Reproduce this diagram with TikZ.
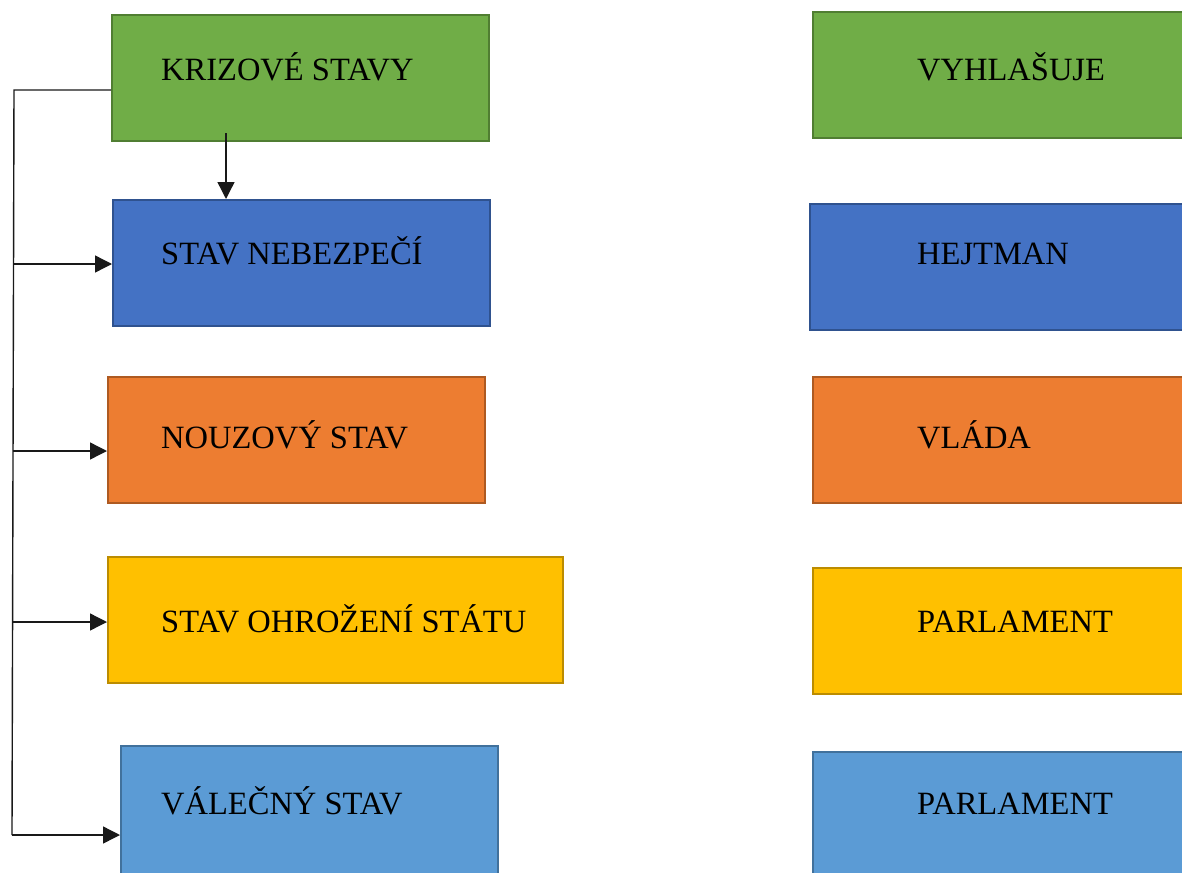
\documentclass[tikz,border=0pt]{standalone}
\usepackage{fontspec}
\setmainfont{Liberation Serif}
\usetikzlibrary{arrows.meta}
\definecolor{gfill}{HTML}{70AD47}\definecolor{gdraw}{HTML}{507E32}
\definecolor{bfill}{HTML}{4472C4}\definecolor{bdraw}{HTML}{2F528F}
\definecolor{ofill}{HTML}{ED7D31}\definecolor{odraw}{HTML}{AE5A21}
\definecolor{yfill}{HTML}{FFC000}\definecolor{ydraw}{HTML}{BC8C00}
\definecolor{lfill}{HTML}{5B9BD5}\definecolor{ldraw}{HTML}{41719C}
\tikzset{
  box/.style={rectangle, anchor=north west, line width=2.2pt, inner sep=0pt, minimum height=126pt},
  gbox/.style={box, fill=gfill, draw=gdraw},
  bbox/.style={box, fill=bfill, draw=bdraw},
  obox/.style={box, fill=ofill, draw=odraw},
  ybox/.style={box, fill=yfill, draw=ydraw},
  lbox/.style={box, fill=lfill, draw=ldraw},
  lbl/.style={anchor=base west, inner sep=0pt, font=\fontsize{32.5}{38}\selectfont},
  conn/.style={line width=1.4pt, draw=black!90},
  arr/.style={conn, -{Triangle[length=17pt,width=17pt]}}
}
\begin{document}
\begin{tikzpicture}[x=1pt,y=-1pt]
\useasboundingbox (0,0) rectangle (1182,872);
\clip (0,0) rectangle (1182,872);
% left column
\node[gbox, minimum width=377pt] (k) at (111,14) {};
\node[bbox, minimum width=377pt] (sn) at (112,199) {};
\node[obox, minimum width=377pt] (ns) at (107,376) {};
\node[ybox, minimum width=455pt] (so) at (107,556) {};
\node[lbox, minimum width=377pt, minimum height=140pt] (vs) at (120,745) {};
\node[lbl] (tk) at (161,81) {KRIZOVÉ STAVY};
\node[lbl] (tsn) at (161,264) {STAV NEBEZPEČÍ};
\node[lbl] (tns) at (161,448) {NOUZOVÝ STAV};
\node[lbl] (tso) at (161,632) {STAV OHROŽENÍ STÁTU};
\node[lbl] (tvs) at (161,814) {VÁLEČNÝ STAV};
% right column
\node[gbox, minimum width=400pt] (vy) at (812,11) {};
\node[bbox, minimum width=400pt] (hj) at (809,203) {};
\node[obox, minimum width=400pt] (vl) at (812,376) {};
\node[ybox, minimum width=400pt] (p1) at (812,567) {};
\node[lbox, minimum width=400pt, minimum height=140pt] (p2) at (812,751) {};
\node[lbl] (tvy) at (917,81) {VYHLAŠUJE};
\node[lbl] (thj) at (917,264) {HEJTMAN};
\node[lbl] (tvl) at (917,448) {VLÁDA};
\node[lbl] (tp1) at (917,632) {PARLAMENT};
\node[lbl] (tp2) at (917,814) {PARLAMENT};
% connectors
\coordinate (top) at (14,90);
\coordinate (bot) at (12,835);
\coordinate (a1) at (13.5,264);
\coordinate (a2) at (12.8,451);
\coordinate (a3) at (12.5,622);
\coordinate (d) at (226,133);
\draw[conn] (top -| k.west) -- (top) -- (bot);
\draw[arr] (a1) -- (a1 -| sn.west);
\draw[arr] (a2) -- (a2 -| ns.west);
\draw[arr] (a3) -- (a3 -| so.west);
\draw[arr] (bot) -- (bot -| vs.west);
\draw[arr] (d) -- (d |- sn.north);
\end{tikzpicture}
\end{document}
